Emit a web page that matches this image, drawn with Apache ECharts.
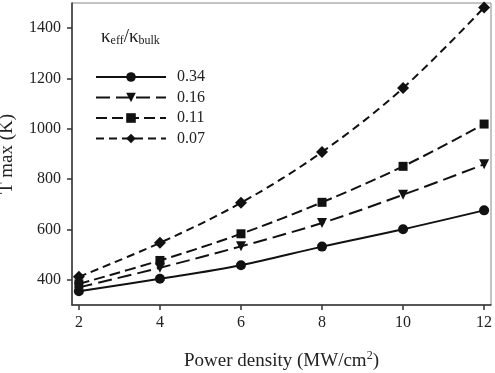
<!DOCTYPE html>
<html><head><meta charset="utf-8">
<script src="https://cdn.jsdelivr.net/npm/echarts@6/dist/echarts.min.js"></script>
<style>html,body{margin:0;padding:0;background:#fff}#c{width:495px;height:373px}</style>
</head><body><div id="c"></div>
<script>
const powerDensity = [2, 4, 6, 8, 10, 12];
const seriesNames = ['0.34', '0.16', '0.11', '0.07'];
const t034 = [355, 404, 458, 532, 601, 676];
const t016 = [370, 448, 533, 626, 738, 859];
const t011 = [384, 477, 583, 708, 851, 1019];
const t007 = [412, 547, 706, 908, 1162, 1482];
const xTicks = [2, 4, 6, 8, 10, 12];
const yTicks = [400, 600, 800, 1000, 1200, 1400];

const font = '"Liberation Serif", "Times New Roman", serif';
const pairs = v => powerDensity.map((x, i) => [x, v[i]]);
const styles = [
  {data: t034, symbol: 'circle', size: 10, type: 'solid'},
  {data: t016, symbol: 'triangle', size: 10, type: [14, 6], rotate: 180},
  {data: t011, symbol: 'rect', size: 9, type: [11, 5]},
  {data: t007, symbol: 'diamond', size: 12, type: [8, 5]}
];
const chart = echarts.init(document.getElementById('c'));
chart.setOption({
  animation: false,
  backgroundColor: '#fff',
  grid: {left: 72, right: 4, top: 3, bottom: 68, show: true, borderColor: '#888', borderWidth: 1,
    containLabel: false, outerBoundsMode: 'none'},
  title: {
    left: 96, top: 20,
    text: '{k|κ}{s|eff}{k|/κ}{s|bulk}',
    textStyle: {
      fontWeight: 'normal',
      rich: {
        k: {fontFamily: font, fontSize: 19, fontWeight: 'normal', color: '#222', verticalAlign: 'bottom', lineHeight: 22},
        s: {fontFamily: font, fontSize: 12, fontWeight: 'normal', color: '#222', verticalAlign: 'bottom', lineHeight: 22, padding: [8, 0, 0, 0]}
      }
    }
  },
  legend: {
    orient: 'vertical', left: 90, top: 64,
    itemWidth: 70, itemHeight: 12, itemGap: 4.5,
    textStyle: {fontFamily: font, fontSize: 16, color: '#222', padding: [0, 0, 0, 6]},
    data: seriesNames
  },
  xAxis: {
    type: 'value', min: 1.83, max: 12.17,
    name: 'Power density (MW/cm{sup|2})', nameLocation: 'middle', nameGap: 45,
    nameTextStyle: {fontFamily: font, fontSize: 19, color: '#222',
      rich: {sup: {fontFamily: font, fontSize: 12, color: '#222', padding: [0, 0, 10, 0]}}},
    axisLine: {show: true, lineStyle: {color: '#333', width: 1.5}},
    axisTick: {show: true, customValues: xTicks, length: 5, lineStyle: {color: '#333', width: 1.5}},
    axisLabel: {customValues: xTicks, fontFamily: font, fontSize: 16, color: '#222', margin: 10},
    splitLine: {show: false}
  },
  yAxis: {
    type: 'value', min: 300, max: 1500,
    name: 'T max (K)', nameLocation: 'middle', nameGap: 55,
    nameTextStyle: {fontFamily: font, fontSize: 19, color: '#222'},
    axisLine: {show: true, lineStyle: {color: '#333', width: 1.5}},
    axisTick: {show: true, customValues: yTicks, length: 5, lineStyle: {color: '#333', width: 1.5}},
    axisLabel: {customValues: yTicks, formatter: v => String(v), fontFamily: font, fontSize: 16, color: '#222', margin: 11},
    splitLine: {show: false}
  },
  series: styles.map((s, i) => ({
    name: seriesNames[i], type: 'line', smooth: 0.35,
    data: pairs(s.data),
    symbol: s.symbol, symbolSize: s.size, symbolRotate: s.rotate || 0,
    lineStyle: {color: '#111', width: 2, type: s.type},
    itemStyle: {color: '#111'},
    z: 10 - i
  }))
});
</script></body></html>
